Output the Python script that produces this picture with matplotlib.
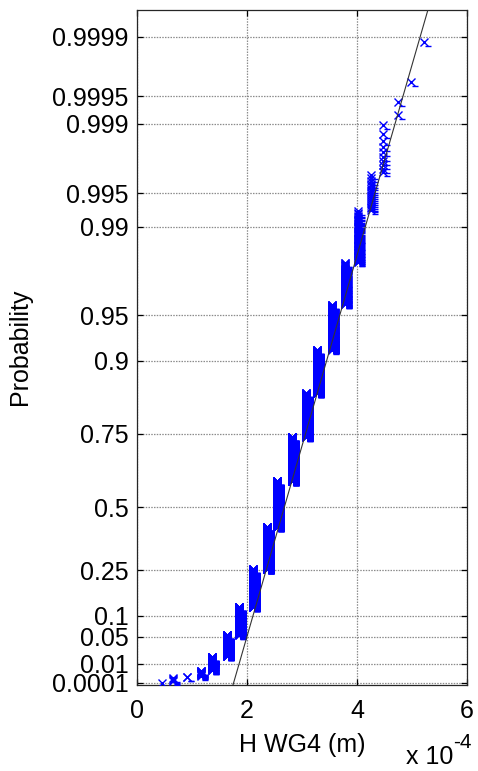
import numpy as np
import matplotlib
matplotlib.use('Agg')
import matplotlib.pyplot as plt
from matplotlib.transforms import offset_copy

# Wave-height levels (units of 1e-4 m) and number of samples recorded at each level
height_levels = [0.45, 0.66, 0.915, 1.16, 1.36, 1.63, 1.86, 2.10, 2.36, 2.55, 2.82,
                 3.07, 3.28, 3.54, 3.78, 4.01, 4.25, 4.48, 4.75, 4.99, 5.21]
level_counts = [1, 4, 2, 13, 56, 156, 305, 557, 720, 758, 615,
                449, 299, 186, 94, 55, 17, 10, 2, 1, 1]

# Probability axis ticks
prob_ticks = [0.0001, 0.01, 0.05, 0.1, 0.25, 0.5, 0.75, 0.9, 0.95, 0.99,
              0.995, 0.999, 0.9995, 0.9999]
prob_tick_labels = ['0.0001', '0.01', '0.05', '0.1', '0.25', '0.5', '0.75', '0.9',
                    '0.95', '0.99', '0.995', '0.999', '0.9995', '0.9999']
x_ticks = [0, 2, 4, 6]
x_tick_labels = ['0', '2', '4', '6']

# Reference line parameters (x = loc + scale * rayleigh_quantile)
ref_loc = 1.745
ref_scale = 0.793

FONT = 'Liberation Sans'
plt.rcParams['font.family'] = [FONT, 'DejaVu Sans']
FS = 18


def fwd(p):
    p = np.clip(np.asarray(p, dtype=float), 0.0, 1 - 1e-15)
    return np.sqrt(-2.0 * np.log1p(-p))


def inv(q):
    q = np.asarray(q, dtype=float)
    return -np.expm1(-np.square(q) / 2.0)


heights = np.sort(np.repeat(height_levels, level_counts))
n = heights.size
pp = (np.arange(1, n + 1) - 0.5) / n

W, H = 478, 771
fig = plt.figure(figsize=(W / 100, H / 100), dpi=100)
ax = fig.add_axes([137 / W, 1 - 685 / H, 330 / W, 675 / H])
ax.set_yscale('function', functions=(fwd, inv))

q_top = 4.469
ax.set_xlim(0, 6)
ax.set_ylim(0, float(inv(q_top)))

# grid
for t in x_ticks:
    ax.axvline(t, color='#8c8c8c', lw=0.9, ls=(0, (1.2, 1.0)), zorder=0)
for t in prob_ticks:
    ax.axhline(t, color='#8c8c8c', lw=0.9, ls=(0, (1.2, 1.0)), zorder=0)

# data markers
ax.plot(heights, pp, ls='none', marker='x', color='#0000ff', ms=5.8, mew=1.0, zorder=3)
dash_tr = offset_copy(ax.transData, fig=fig, x=4, y=-4, units='dots')
ax.plot(heights, pp, ls='none', marker='_', color='#0000ff', ms=3.8, mew=1.0,
        transform=dash_tr, zorder=3)

# reference line
qline = np.array([0.0, q_top])
ax.plot(ref_loc + ref_scale * qline, inv(qline), color='#333333', lw=0.8, zorder=4)

ax.set_xticks(x_ticks)
ax.set_xticklabels(x_tick_labels)
ax.set_yticks(prob_ticks)
ax.set_yticklabels(prob_tick_labels)
ax.minorticks_off()
ax.tick_params(axis='both', direction='in', length=4, width=0.9, colors='black',
               labelsize=FS, top=True, right=True)
ax.tick_params(axis='x', pad=10)
ax.tick_params(axis='y', pad=6)
for s in ax.spines.values():
    s.set_color('#262626')
    s.set_linewidth(0.9)

fig.text(20 / W, 1 - 347 / H, 'Probability', rotation=90, ha='center', va='center',
         fontsize=FS)
fig.text(302 / W, 1 - 745 / H, 'H WG4 (m)', ha='center', va='center', fontsize=FS)
fig.text(453 / W, 1 - 757 / H, 'x 10', ha='right', va='center', fontsize=FS)
fig.text(453 / W, 1 - 742 / H, '-4', ha='left', va='center', fontsize=15)

fig.savefig('out.png', dpi=100)
